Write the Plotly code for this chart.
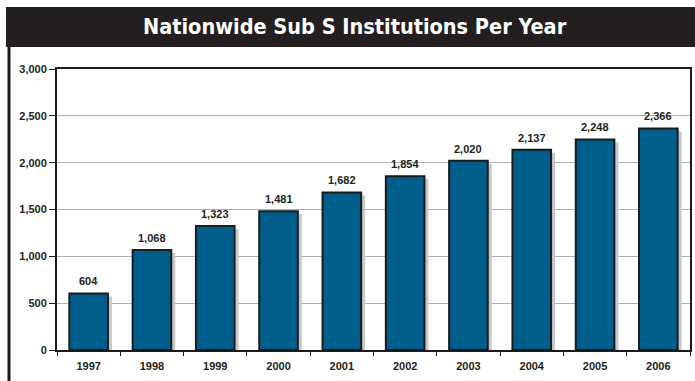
import plotly.graph_objects as go

years = ["1997", "1998", "1999", "2000", "2001", "2002", "2003", "2004", "2005", "2006"]
institutions = [604, 1068, 1323, 1481, 1682, 1854, 2020, 2137, 2248, 2366]
title_text = "Nationwide Sub S Institutions Per Year"

W, H = 695, 381
# plot area in pixels
PX0, PX1, PY0, PY1 = 57, 690, 69, 350
YMAX = 3000
bar_w = 0.61
shadow_dx = 4 / ((PX1 - PX0) / len(years))
shadow_dy = 3 * YMAX / (PY1 - PY0)

FONT = "Arial, Liberation Sans, Helvetica, sans-serif"
TXT = "#231F20"

fig = go.Figure()
fig.add_trace(go.Bar(
    x=years, y=[v - shadow_dy for v in institutions],
    width=bar_w, offset=-bar_w / 2 + shadow_dx,
    marker=dict(color="#C9C9C9", line=dict(width=0)),
    hoverinfo="skip", showlegend=False,
))
fig.add_trace(go.Bar(
    x=years, y=institutions,
    width=bar_w, offset=-bar_w / 2,
    marker=dict(color="#005E8C", line=dict(color="#1A1A1A", width=2)),
    showlegend=False,
))

annotations = [
    dict(x=i, y=v, xref="x", yref="y", text=f"<b>{v:,}</b>",
         showarrow=False, yanchor="middle", xanchor="center", yshift=12,
         font=dict(family=FONT, size=11, color=TXT))
    for i, v in enumerate(institutions)
]
annotations.append(
    dict(text=f"<b>{title_text}</b>", xref="paper", yref="paper",
         x=355 / W, y=1 - 27 / H, xanchor="center", yanchor="middle",
         showarrow=False,
         font=dict(family="DejaVu Sans Condensed, Liberation Sans Narrow, Arial Narrow, sans-serif",
                   size=21.5, color="white"))
)

fig.update_layout(
    width=W, height=H,
    margin=dict(l=0, r=0, t=0, b=0, autoexpand=False),
    paper_bgcolor="white", plot_bgcolor="white",
    barmode="overlay",
    xaxis=dict(
        domain=[PX0 / W, PX1 / W],
        type="category", automargin=False,
        range=[-0.5, len(years) - 0.5],
        showline=True, linecolor="#1A1A1A", linewidth=2, mirror=True,
        ticks="outside", tickson="boundaries", ticklen=4, tickcolor="#1A1A1A", tickwidth=1,
        ticklabelstandoff=5,
        tickfont=dict(family=FONT, size=11, color=TXT, weight="bold"),
        showgrid=False,
    ),
    yaxis=dict(
        domain=[1 - PY1 / H, 1 - PY0 / H], automargin=False,
        range=[0, YMAX], dtick=500, tickformat=",",
        showline=True, linecolor="#1A1A1A", linewidth=2, mirror=True,
        ticks="outside", ticklen=6, tickcolor="#1A1A1A", tickwidth=1,
        tickfont=dict(family=FONT, size=11, color=TXT, weight="bold"),
        showgrid=True, gridcolor="#AFAFAF", gridwidth=1,
        zeroline=False,
    ),
    shapes=[
        dict(type="rect", xref="paper", yref="paper",
             x0=6 / W, x1=1.0, y0=1 - 47 / H, y1=1 - 7 / H,
             fillcolor="#231F20", line=dict(width=0), layer="above"),
        dict(type="line", xref="paper", yref="paper",
             x0=9 / W, x1=9 / W, y0=0, y1=1 - 46 / H,
             line=dict(color="#1A1A1A", width=3)),
    ],
    annotations=annotations,
)

fig.write_html("out.html")
